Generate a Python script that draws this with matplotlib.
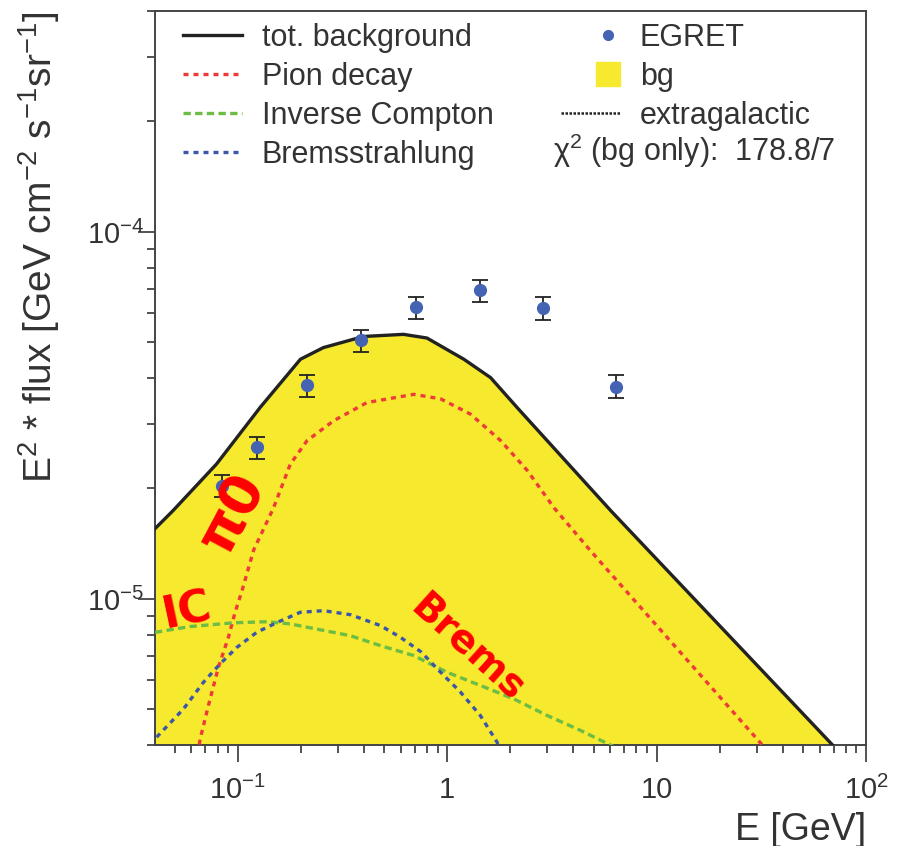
import matplotlib
matplotlib.use('Agg')
import matplotlib.pyplot as plt
from matplotlib.lines import Line2D
from matplotlib.legend_handler import HandlerLine2D
import numpy as np

plt.rcParams['font.family'] = ['Liberation Sans', 'DejaVu Sans']
plt.rcParams['mathtext.fontset'] = 'custom'
plt.rcParams['mathtext.rm'] = 'Liberation Sans'
plt.rcParams['mathtext.it'] = 'Liberation Sans:italic'
plt.rcParams['mathtext.default'] = 'regular'

# total background (E in GeV, E^2 * flux)
tot_E = [0.040, 0.049, 0.079, 0.128, 0.199, 0.256, 0.398, 0.618, 0.80, 1.20, 1.61, 2.16, 6.04, 69.5, 100]
tot_F = [1.55e-5, 1.74e-5, 2.33e-5, 3.33e-5, 4.50e-5, 4.84e-5, 5.19e-5, 5.26e-5, 5.14e-5,
         4.50e-5, 4.01e-5, 3.32e-5, 1.74e-5, 3.99e-6, 3.2e-6]

pion_E = [0.055, 0.0661, 0.0723, 0.0807, 0.0901, 0.0970, 0.1045, 0.119, 0.148, 0.178, 0.214,
          0.287, 0.414, 0.692, 0.929, 1.29, 1.80, 2.41, 3.24, 4.85, 32.1, 100]
pion_F = [2.3e-6, 4.16e-6, 5.12e-6, 6.51e-6, 7.86e-6, 9.20e-6, 1.05e-5, 1.36e-5, 1.77e-5, 2.33e-5,
          2.70e-5, 3.06e-5, 3.43e-5, 3.61e-5, 3.51e-5, 3.19e-5, 2.70e-5, 2.24e-5, 1.77e-5,
          1.35e-5, 3.99e-6, 1.9e-6]

ic_E = [0.0402, 0.0591, 0.0953, 0.138, 0.178, 0.345, 0.480, 0.692, 1.0, 1.44, 2.08, 3.01, 4.34, 6.07, 20]
ic_F = [8.11e-6, 8.41e-6, 8.61e-6, 8.67e-6, 8.55e-6, 7.94e-6, 7.46e-6, 7.01e-6, 6.31e-6,
        5.81e-6, 5.34e-6, 4.81e-6, 4.38e-6, 3.99e-6, 2.8e-6]

brems_E = [0.0409, 0.0549, 0.0685, 0.0822, 0.0989, 0.123, 0.154, 0.199, 0.257, 0.345, 0.480,
           0.598, 0.753, 0.896, 1.158, 1.44, 1.73, 2.2]
brems_F = [4.20e-6, 5.01e-6, 5.93e-6, 6.65e-6, 7.38e-6, 8.11e-6, 8.63e-6, 9.20e-6, 9.29e-6,
           9.06e-6, 8.46e-6, 7.86e-6, 7.16e-6, 6.45e-6, 5.57e-6, 4.81e-6, 4.07e-6, 3.0e-6]

egret_E = [0.0844, 0.123, 0.215, 0.389, 0.711, 1.43, 2.88, 6.38]
egret_F = [2.03e-5, 2.59e-5, 3.83e-5, 5.07e-5, 6.25e-5, 6.93e-5, 6.22e-5, 3.79e-5]
egret_lo = [1.89e-5, 2.40e-5, 3.56e-5, 4.72e-5, 5.81e-5, 6.44e-5, 5.75e-5, 3.52e-5]
egret_hi = [2.17e-5, 2.77e-5, 4.08e-5, 5.42e-5, 6.67e-5, 7.39e-5, 6.67e-5, 4.07e-5]

xticks = [0.1, 1, 10, 100]
xticklabels = ['$10^{-1}$', '1', '10', '$10^{2}$']
yticks = [1e-5, 1e-4]
yticklabels = ['$10^{-5}$', '$10^{-4}$']

txt = '#333333'
yellow = '#f6e92e'
red = '#ef3a3a'
green = '#6cbd45'
blue = '#3d57a8'
dot = '#4563b3'

fig = plt.figure(figsize=(8.97, 8.46), dpi=100)
ax = fig.add_axes([155/897, 1 - 745/846, 711/897, 734/846])
ax.set_xscale('log')
ax.set_yscale('log')
ax.set_xlim(0.0402, 100)
ax.set_ylim(4e-6, 4e-4)

ax.fill_between(tot_E, tot_F, 1e-8, color=yellow, lw=0, zorder=1)
ax.plot(tot_E, tot_F, color='#222222', lw=2.4, zorder=4)
ax.plot(pion_E, pion_F, color=red, lw=2.4, dashes=(1.5, 1.5), zorder=3)
ax.plot(ic_E, ic_F, color=green, lw=2.4, dashes=(2.2, 1.3), zorder=3)
ax.plot(brems_E, brems_F, color=blue, lw=2.4, dashes=(1.5, 1.5), zorder=3)

E = np.array(egret_E)
F = np.array(egret_F)
yerr = [F - np.array(egret_lo), np.array(egret_hi) - F]
ax.errorbar(E, F, yerr=yerr, fmt='o', color=dot, ms=8.5, ecolor='#222222',
            elinewidth=1.3, capsize=6, capthick=1.3, zorder=5)

# hand-written labels
ax.text(0.110, 0.316, 'π0', transform=ax.transAxes, color='red', fontsize=40,
        fontweight='bold', family='DejaVu Sans', rotation=62, ha='center', va='center', zorder=6)
ax.text(0.046, 0.182, 'IC', transform=ax.transAxes, color='red', fontsize=32,
        fontweight='bold', family='DejaVu Sans', rotation=12, ha='center', va='center', zorder=6)
ax.text(0.440, 0.132, 'Brems', transform=ax.transAxes, color='red', fontsize=28,
        fontweight='bold', family='DejaVu Sans', rotation=-42, ha='center', va='center', zorder=6)

# axes cosmetics
for s in ax.spines.values():
    s.set_color('#444444')
    s.set_linewidth(1.4)
ax.xaxis.set_ticks(xticks)
ax.xaxis.set_ticklabels(xticklabels)
ax.yaxis.set_ticks(yticks)
ax.yaxis.set_ticklabels(yticklabels)
ax.xaxis.set_minor_locator(matplotlib.ticker.LogLocator(base=10, subs=np.arange(2, 10)))
ax.yaxis.set_minor_locator(matplotlib.ticker.LogLocator(base=10, subs=np.arange(2, 10)))
ax.xaxis.set_minor_formatter(matplotlib.ticker.NullFormatter())
ax.yaxis.set_minor_formatter(matplotlib.ticker.NullFormatter())
ax.tick_params(which='major', direction='out', length=12, width=1.3, color='#444444',
               labelsize=21, labelcolor=txt)
ax.tick_params(which='minor', direction='out', length=6, width=1.3, color='#444444')
ax.tick_params(axis='y', which='major', pad=-4)
ax.tick_params(axis='x', which='major', pad=10)

ax.set_xlabel('E [GeV]', fontsize=27, color=txt, loc='right', labelpad=5)
ax.set_ylabel('E$^{2}$ * flux [GeV cm$^{-2}$ s$^{-1}$sr$^{-1}$]', fontsize=28, color=txt,
              loc='top', labelpad=18)


class RightMarker(HandlerLine2D):
    def get_xdata(self, legend, xdescent, ydescent, width, height, fontsize):
        x1 = -xdescent + width
        x0 = x1 - 0.8 * fontsize
        return [x0, x1], [0.5 * (x0 + x1)]


h_tot = Line2D([], [], color='#222222', lw=2.4)
h_pion = Line2D([], [], color=red, lw=2.4, dashes=(1.5, 1.5))
h_ic = Line2D([], [], color=green, lw=2.4, dashes=(2.2, 1.3))
h_brems = Line2D([], [], color=blue, lw=2.4, dashes=(1.5, 1.5))
h_egret = Line2D([], [], ls='none', marker='o', color=dot, ms=7)
h_bg = Line2D([], [], ls='none', marker='s', color=yellow, ms=17)
h_extra = Line2D([], [], color='#222222', lw=1.8, ls=(0, (1, 0.6)))

leg = ax.legend([h_tot, h_pion, h_ic, h_brems, h_egret, h_bg, h_extra],
                ['tot. background', 'Pion decay', 'Inverse Compton', 'Bremsstrahlung',
                 'EGRET', 'bg', 'extragalactic'],
                handler_map={h_egret: RightMarker(), h_bg: RightMarker()},
                ncol=2, loc='upper left', bbox_to_anchor=(28/711, 1 - 12/734),
                frameon=False, fontsize=22, handlelength=1.93, handletextpad=0.65,
                labelspacing=0.29, columnspacing=2.2, borderpad=0, borderaxespad=0)
for t in leg.get_texts():
    t.set_color(txt)

ax.text((553 - 155)/711, (745 - 151)/734, '$\\chi^{2}$ (bg only):  178.8/7',
        transform=ax.transAxes, fontsize=22, color=txt, ha='left', va='center')

fig.savefig('out.png', dpi=100)
